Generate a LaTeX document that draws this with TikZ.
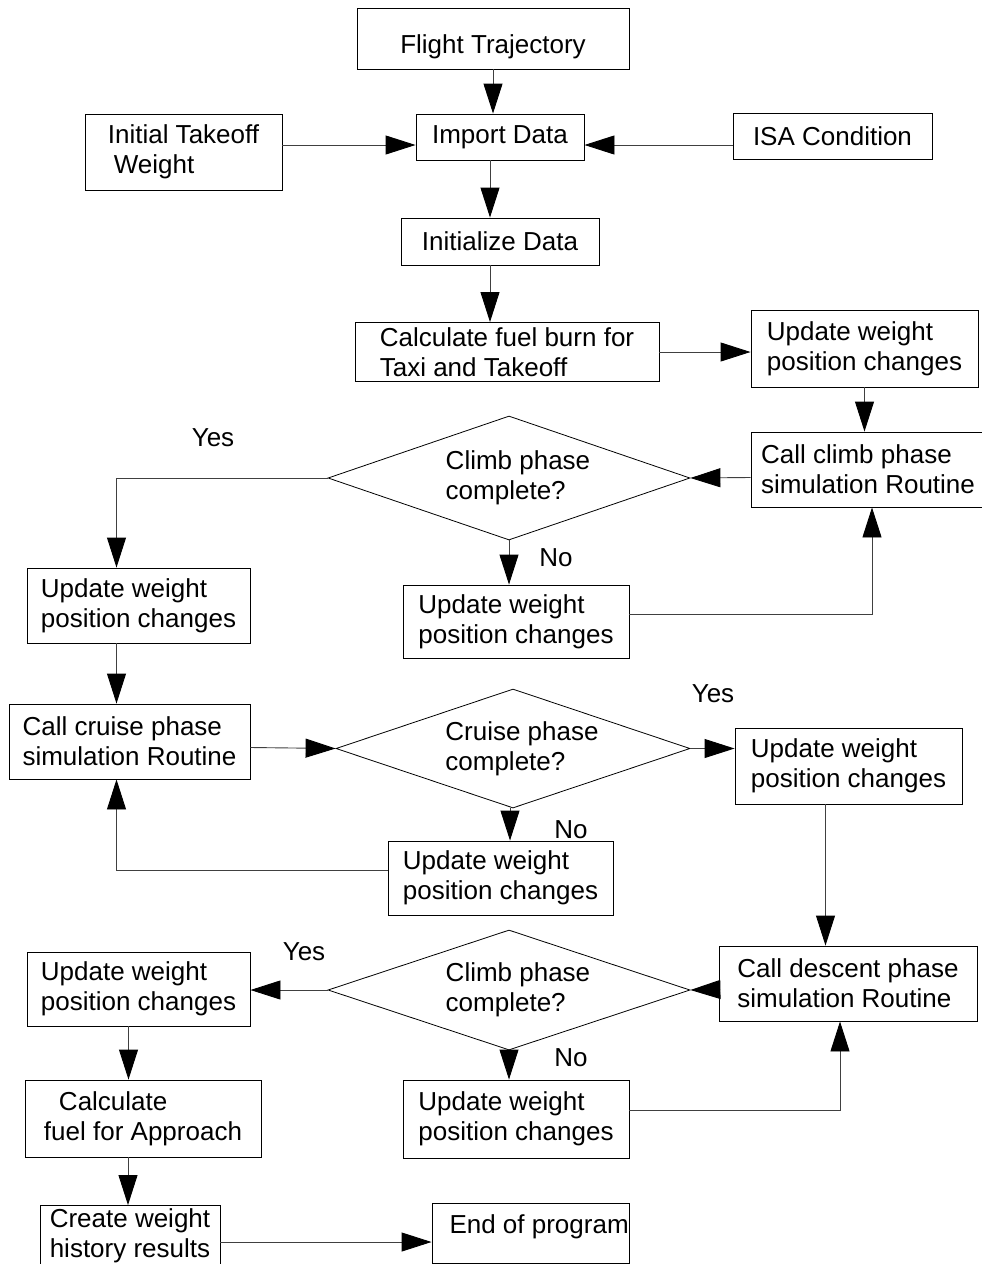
\documentclass[tikz,border=0pt]{standalone}
\usepackage{fontspec}
\setmainfont{Liberation Sans}
\usetikzlibrary{shapes.geometric,arrows.meta}

\begin{document}
\begin{tikzpicture}[x=1pt,y=-1pt]
	% Styles for boxes, decisions and connectors
	\tikzset{box/.style={draw=black,line width=0.9pt,align=left,inner xsep=4pt,inner ysep=1pt,font=\fontsize{26}{30}\selectfont},
		decision/.style={draw=black,line width=0.8pt,diamond,aspect=2.9,align=left,inner sep=0pt,font=\fontsize{26}{30}\selectfont},
		arr/.style={line width=0.9pt,draw=black!75,-{Triangle[length=30pt,width=19pt,black]}},
		lbl/.style={font=\fontsize{26}{30}\selectfont}}
	\useasboundingbox (0,0) rectangle (982,1264);
	
	% input and set-up
	\node[box,minimum width=272pt,minimum height=61pt,text height=34pt,text depth=5pt] (traj) at (493,38.5) {Flight Trajectory};
	\node[box,minimum width=168pt,minimum height=46pt] (import) at (500,137) {Import Data};
	\node[box,minimum width=197pt,minimum height=76pt] (takeoff) at (183.5,152) {Initial Takeoff\\\hspace*{6pt}Weight};
	\node[box,minimum width=199pt,minimum height=46pt] (isa) at (832.5,136) {ISA Condition};
	\node[box,minimum width=198pt,minimum height=47pt] (init) at (500,241.5) {Initialize Data};
	\node[box,minimum width=304pt,minimum height=59pt,inner ysep=0pt] (taxi) at (507,352) {Calculate fuel burn for\\Taxi and Takeoff};
	
	% climb phase
	\node[box,minimum width=227pt,minimum height=77pt] (updA) at (864.5,348.5) {Update weight\\position changes};
	\node[box,minimum width=234pt,minimum height=75pt] (climb) at (868,469.5) {Call climb phase\\simulation Routine};
	\node[decision,minimum width=362pt,minimum height=124pt] (decA) at (509,478) {\hspace*{18pt}Climb phase\\\hspace*{18pt}complete?};
	\node[box,minimum width=226pt,minimum height=73pt] (updB) at (516,621.5) {Update weight\\position changes};
	\node[box,minimum width=223pt,minimum height=75pt] (updC) at (138.5,605.5) {Update weight\\position changes};
	
	% cruise phase
	\node[box,minimum width=241pt,minimum height=75pt] (cruise) at (129.5,741.5) {Call cruise phase\\simulation Routine};
	\node[decision,minimum width=354pt,minimum height=119pt] (decB) at (513,748.5) {\hspace*{18pt}Cruise phase\\\hspace*{18pt}complete?};
	\node[box,minimum width=227pt,minimum height=76pt] (updD) at (848.5,766) {Update weight\\position changes};
	\node[box,minimum width=225pt,minimum height=74pt] (updE) at (500.5,878) {Update weight\\position changes};
	
	% descent phase
	\node[box,minimum width=258pt,minimum height=75pt] (descent) at (848,983.5) {Call descent phase\\simulation Routine};
	\node[decision,minimum width=362pt,minimum height=120pt] (decC) at (509,990) {\hspace*{18pt}Climb phase\\\hspace*{18pt}complete?};
	\node[box,minimum width=223pt,minimum height=74pt] (updF) at (138.5,989) {Update weight\\position changes};
	\node[box,minimum width=226pt,minimum height=78pt] (updG) at (516,1119) {Update weight\\position changes};
	
	% approach and end
	\node[box,minimum width=236pt,minimum height=77pt] (approach) at (143,1118.5) {\hspace*{15pt}Calculate\\fuel for Approach};
	\node[box,minimum width=180pt,minimum height=61pt,inner ysep=0pt] (history) at (130,1236) {Create weight\\history results};
	\node[box,minimum width=197pt,minimum height=60pt,inner xsep=0pt,text height=20pt,text depth=20pt] (finish) at (530.5,1233) {\makebox[180pt][l]{\hspace*{9pt}End of program}};
	
	% Yes / No labels
	\foreach \n/\x/\y/\t in {yesA/213/438/Yes, noA/556/558/No, yesB/713/694/Yes, noB/571/830/No, yesC/304/952/Yes, noC/571/1058/No} {
		\node[lbl] (\n) at (\x,\y) {\t};
	}
	
	% connectors -- set-up
	\draw[arr] (traj.south) -- ([xshift=-7pt]import.north);
	\draw[arr] ([yshift=7pt]takeoff.east) -- ([yshift=-8pt]import.west);
	\draw[arr] ([yshift=-9pt]isa.west) -- ([yshift=-8pt]import.east);
	\draw[arr] ([xshift=-10pt]import.south) -- ([xshift=-10pt]init.north);
	\draw[arr] ([xshift=-10pt]init.south) -- ([xshift=-17pt]taxi.north);
	\draw[arr] (taxi.east) -- (taxi.east -| updA.west);
	
	% connectors -- climb
	\draw[arr] (updA.south) -- (updA.south |- climb.north);
	\draw[arr] ([yshift=-8pt]climb.west) -- (decA.east);
	\draw[arr] (decA.west) -| ([xshift=-22pt]updC.north);
	\draw[arr] (decA.south) -- (decA.south |- updB.north);
	\draw[arr] ([yshift=7pt]updB.east) -| ([xshift=4pt]climb.south);
	
	% connectors -- cruise
	\draw[arr] ([xshift=-22pt]updC.south) -- ([xshift=-22pt]updC.south |- cruise.north);
	\draw[arr] ([yshift=-6pt]cruise.east) -- (decB.west);
	\draw[arr] (decB.east) -- (decB.east -| updD.west);
	\draw[arr] ([xshift=-3pt]decB.south) -- ([xshift=-3pt]decB.south |- updE.north);
	\draw[arr] ([yshift=8pt]updE.west) -| ([xshift=-13pt]cruise.south);
	
	% connectors -- descent
	\draw[arr] ([xshift=-23pt]updD.south) -- ([xshift=-23pt]updD.south |- descent.north);
	\draw[arr] ([yshift=-6pt]descent.west) -- (decC.east);
	\draw[arr] (decC.west) -- (decC.west -| updF.east);
	\draw[arr] (decC.south) -- (decC.south |- updG.north);
	\draw[arr] ([yshift=9pt]updG.east) -| ([xshift=-8pt]descent.south);
	
	% connectors -- approach
	\draw[arr] ([xshift=-10pt]updF.south) -- ([xshift=-10pt]updF.south |- approach.north);
	\draw[arr] ([xshift=-15pt]approach.south) -- ([xshift=-2pt]history.north);
	\draw[arr] ([yshift=-9pt]finish.west -| history.east) -- ([yshift=-9pt]finish.west);
\end{tikzpicture}
\end{document}
